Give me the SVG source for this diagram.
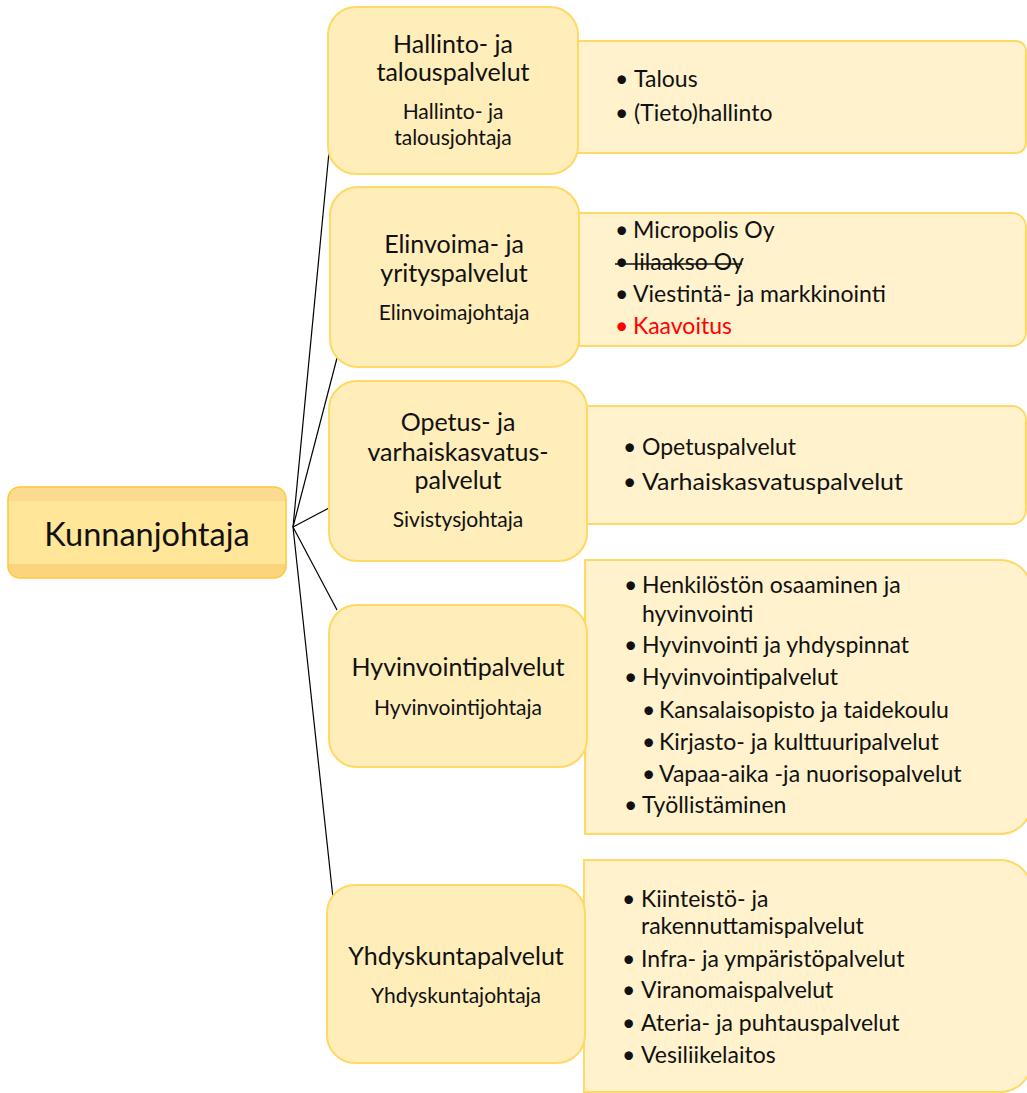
<svg xmlns="http://www.w3.org/2000/svg" width="1027" height="1093" viewBox="0 0 1027 1093">
<style>
.box{fill:#FFF2CD;stroke:#FFD966;stroke-width:2}
.node{fill:#FFEDBA;stroke:#FFD966;stroke-width:2}
.t{font-family:Lato,"Liberation Sans",sans-serif;fill:#111}
.title{font-size:25px;text-anchor:middle}
.sub{font-size:21px;text-anchor:middle}
.b{font-size:23px}
.red{fill:#FF0000}
.conn line{stroke:#000;stroke-width:1.2}
</style>
<defs>
<linearGradient id="rootg" x1="0" y1="0" x2="0" y2="1">
<stop offset="0" stop-color="#FDDA92"/>
<stop offset="0.15" stop-color="#FDDA92"/>
<stop offset="0.16" stop-color="#FFE699"/>
<stop offset="0.84" stop-color="#FFE699"/>
<stop offset="0.85" stop-color="#FDD47E"/>
<stop offset="1" stop-color="#FDD47E"/>
</linearGradient>
</defs>
<rect width="1027" height="1093" fill="#fff"/>

<g id="connectors" class="conn">
<line x1="293" y1="527" x2="329" y2="152"/>
<line x1="293" y1="527" x2="337" y2="358"/>
<line x1="293" y1="527" x2="329" y2="508"/>
<line x1="293" y1="527" x2="337" y2="610"/>
<line x1="293" y1="527" x2="333" y2="898"/>
</g>

<g id="root">
<rect x="8" y="487" width="278" height="91" rx="12" fill="url(#rootg)" stroke="#FCC93A" stroke-width="1.5"/>
<text class="t" x="147" y="546" font-size="32.5" text-anchor="middle">Kunnanjohtaja</text>
</g>

<g id="list1">
<path class="box" d="M577,41 H1016 A10,10 0 0 1 1026,51 V143 A10,10 0 0 1 1016,153 H577 Z"/>
<text class="t b" x="615" y="87">•</text><text class="t b" x="634" y="87">Talous</text>
<text class="t b" x="615" y="121">•</text><text class="t b" x="634" y="121">(Tieto)hallinto</text>
</g>
<g id="list2">
<path class="box" d="M579,213 H1012 A14,14 0 0 1 1026,227 V332 A14,14 0 0 1 1012,346 H579 Z"/>
<text class="t b" x="615" y="238">•</text><text class="t b" x="633" y="238">Micropolis Oy</text>
<text class="t b" x="615" y="270">•</text><text class="t b" x="633" y="270">Iilaakso Oy</text>
<line x1="615" y1="264" x2="742" y2="264" stroke="#111" stroke-width="1.5"/>
<text class="t b" x="615" y="302">•</text><text class="t b" x="633" y="302">Viestintä- ja markkinointi</text>
<text class="t b red" x="615" y="334">•</text><text class="t b red" x="633" y="334">Kaavoitus</text>
</g>
<g id="list3">
<path class="box" d="M587,406 H1012 A14,14 0 0 1 1026,420 V510 A14,14 0 0 1 1012,524 H587 Z"/>
<text class="t b" x="623" y="455">•</text><text class="t b" x="642" y="455">Opetuspalvelut</text>
<text class="t b" x="623" y="490">•</text><text class="t b" x="642" y="490" textLength="261" lengthAdjust="spacingAndGlyphs">Varhaiskasvatuspalvelut</text>
</g>
<g id="list4">
<path class="box" d="M585,560 H1000 A32,32 0 0 1 1032,592 V802 A32,32 0 0 1 1000,834 H585 Z"/>
<text class="t b" x="624" y="593">•</text><text class="t b" x="642" y="593">Henkilöstön osaaminen ja</text>
<text class="t b" x="642" y="622">hyvinvointi</text>
<text class="t b" x="624" y="653">•</text><text class="t b" x="642" y="653">Hyvinvointi ja yhdyspinnat</text>
<text class="t b" x="624" y="685">•</text><text class="t b" x="642" y="685">Hyvinvointipalvelut</text>
<text class="t b" x="642" y="718">•</text><text class="t b" x="659" y="718">Kansalaisopisto ja taidekoulu</text>
<text class="t b" x="642" y="750">•</text><text class="t b" x="659" y="750">Kirjasto- ja kulttuuripalvelut</text>
<text class="t b" x="642" y="782">•</text><text class="t b" x="659" y="782">Vapaa-aika -ja nuorisopalvelut</text>
<text class="t b" x="624" y="813">•</text><text class="t b" x="642" y="813">Työllistäminen</text>
</g>
<g id="list5">
<path class="box" d="M584,860 H1000 A32,32 0 0 1 1032,892 V1060 A32,32 0 0 1 1000,1092 H584 Z"/>
<text class="t b" x="622" y="907">•</text><text class="t b" x="641" y="907">Kiinteistö- ja</text>
<text class="t b" x="641" y="934">rakennuttamispalvelut</text>
<text class="t b" x="622" y="967">•</text><text class="t b" x="641" y="967">Infra- ja ympäristöpalvelut</text>
<text class="t b" x="622" y="998">•</text><text class="t b" x="641" y="998">Viranomaispalvelut</text>
<text class="t b" x="622" y="1031">•</text><text class="t b" x="641" y="1031">Ateria- ja puhtauspalvelut</text>
<text class="t b" x="622" y="1063">•</text><text class="t b" x="641" y="1063">Vesiliikelaitos</text>
</g>

<g id="node1">
<rect class="node" x="328" y="7" width="250" height="167" rx="28"/>
<text class="t title" x="453" y="53">Hallinto- ja</text>
<text class="t title" x="453" y="81">talouspalvelut</text>
<text class="t sub" x="453" y="119">Hallinto- ja</text>
<text class="t sub" x="453" y="145">talousjohtaja</text>
</g>
<g id="node2">
<rect class="node" x="330" y="187" width="249" height="180" rx="28"/>
<text class="t title" x="454" y="253">Elinvoima- ja</text>
<text class="t title" x="454" y="282">yrityspalvelut</text>
<text class="t sub" x="454" y="320">Elinvoimajohtaja</text>
</g>
<g id="node3">
<rect class="node" x="329" y="381" width="258" height="180" rx="28"/>
<text class="t title" x="458" y="431">Opetus- ja</text>
<text class="t title" x="458" y="461">varhaiskasvatus-</text>
<text class="t title" x="458" y="489">palvelut</text>
<text class="t sub" x="458" y="527">Sivistysjohtaja</text>
</g>
<g id="node4">
<rect class="node" x="329" y="605" width="258" height="162" rx="28"/>
<text class="t title" x="458" y="676">Hyvinvointipalvelut</text>
<text class="t sub" x="458" y="715">Hyvinvointijohtaja</text>
</g>
<g id="node5">
<rect class="node" x="327" y="885" width="258" height="178" rx="28"/>
<text class="t title" x="456" y="965">Yhdyskuntapalvelut</text>
<text class="t sub" x="456" y="1003">Yhdyskuntajohtaja</text>
</g>
</svg>
